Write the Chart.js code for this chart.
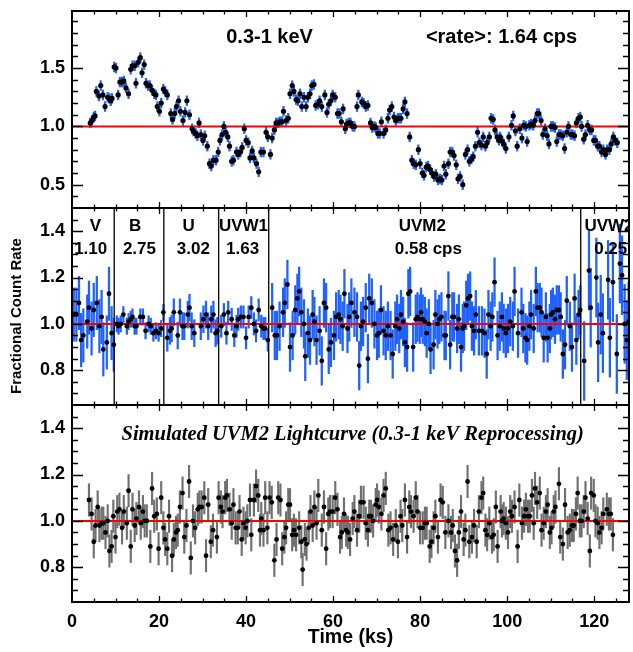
<!DOCTYPE html>
<html>
<head>
<meta charset="utf-8">
<title>Lightcurves</title>
<script src="https://cdn.jsdelivr.net/npm/chart.js@4.4.1/dist/chart.umd.min.js"></script>
<style>
  html, body { margin: 0; padding: 0; background: #fff; }
  canvas { display: block; }
</style>
</head>
<body>
<canvas id="lc" width="633" height="652"></canvas>
<script>
// 0.3-1 keV X-ray lightcurve (fractional rate)
const tTop = [
  4.2,4.6,5.0,5.3,5.6,6.2,6.6,7.1,7.6,8.2,
  8.6,8.9,9.2,9.7,10.1,10.6,11.0,11.5,11.9,12.4,
  13.0,13.5,13.9,14.4,14.7,15.2,15.7,16.1,16.6,17.0,
  17.5,17.9,18.4,18.9,19.3,19.6,20.1,20.5,21.0,21.4,
  21.9,22.7,23.1,23.6,24.0,24.5,24.9,25.5,26.0,26.4,
  27.0,27.6,27.9,28.4,28.8,29.2,29.6,30.1,30.5,31.1,
  31.6,32.0,32.5,33.1,33.6,34.0,34.5,34.9,35.3,35.8,
  36.2,36.7,37.1,37.8,38.2,38.7,39.1,39.6,40.0,40.5,
  40.9,41.4,41.8,42.4,42.9,43.4,44.0,44.6,45.0,45.6,
  46.0,46.5,46.9,47.4,47.8,48.3,48.6,49.2,49.7,50.1,
  50.6,51.0,51.5,51.9,52.4,52.8,53.3,53.8,54.2,54.7,
  55.1,55.6,56.0,56.5,56.9,57.4,58.1,58.6,59.0,59.5,
  59.9,60.5,61.0,61.4,61.9,62.3,62.8,63.1,63.6,64.0,
  64.5,64.9,65.5,65.8,66.6,67.0,67.5,68.0,68.6,69.0,
  69.5,69.8,70.3,70.7,71.1,71.6,72.1,72.6,73.0,73.5,
  74.0,74.4,74.9,75.3,75.6,76.1,76.5,77.0,77.6,78.1,
  78.5,79.0,79.6,80.0,80.5,80.9,81.4,81.8,82.3,82.7,
  83.2,83.6,84.1,84.6,85.0,85.5,85.9,86.5,86.9,87.4,
  87.8,88.3,88.7,89.2,89.8,90.4,90.9,91.3,91.8,92.2,
  92.7,93.2,93.6,94.1,94.5,95.0,95.4,95.9,96.3,96.8,
  97.2,97.7,98.1,98.4,98.9,99.2,99.7,100.4,101.0,101.4,
  101.9,102.3,102.9,103.4,103.8,104.3,104.6,105.1,105.5,106.0,
  106.4,106.9,107.3,107.8,108.2,108.7,109.2,109.6,110.1,110.5,
  111.0,111.4,111.9,112.3,112.8,113.2,113.7,114.1,114.6,115.0,
  115.5,115.9,116.4,116.8,117.1,117.6,118.0,118.5,119.0,119.4,
  119.9,120.3,120.8,121.2,121.7,122.1,122.6,123.0,123.5,123.9,
  124.4,124.8,125.3
];
const rateTop = [
  1.03,1.05,1.08,1.09,1.30,1.26,1.35,1.27,1.17,1.25,
  1.24,1.22,1.24,1.51,1.50,1.27,1.38,1.38,1.39,1.33,
  1.28,1.49,1.52,1.52,1.37,1.55,1.59,1.46,1.53,1.37,
  1.35,1.35,1.31,1.28,1.27,1.17,1.13,1.20,1.32,1.30,
  1.27,1.11,1.06,1.11,1.17,1.22,1.13,1.05,1.12,1.22,
  1.10,0.98,0.96,0.94,0.92,1.03,0.93,0.88,0.92,0.83,
  0.68,0.66,0.71,0.71,0.78,0.88,0.93,1.00,0.95,0.91,
  0.83,0.70,0.71,0.78,0.76,0.78,0.82,0.98,0.88,0.86,
  0.73,0.79,0.73,0.68,0.61,0.78,0.78,0.95,0.91,0.76,
  0.90,0.97,1.03,1.03,1.04,1.04,1.13,1.05,1.07,1.28,
  1.35,1.30,1.23,1.22,1.28,1.17,1.25,1.17,1.25,1.28,
  1.35,1.36,1.18,1.19,1.22,1.17,1.27,1.12,1.19,1.22,
  1.27,1.25,1.11,1.11,1.04,1.15,0.98,1.02,1.03,1.03,
  1.00,1.00,1.17,1.27,1.21,1.20,1.17,1.18,1.03,0.99,
  1.00,0.99,0.94,0.94,1.04,0.94,0.97,1.07,1.14,1.17,
  1.08,1.05,1.07,1.07,1.07,1.15,1.21,1.11,0.91,0.71,
  0.68,0.67,0.80,0.68,0.60,0.58,0.65,0.66,0.63,0.60,
  0.57,0.59,0.54,0.55,0.54,0.66,0.59,0.68,0.78,0.78,
  0.75,0.67,0.55,0.57,0.50,0.76,0.80,0.70,0.72,0.74,
  0.83,0.95,0.86,0.84,0.91,0.83,0.86,0.91,1.07,1.06,
  0.97,0.91,0.88,0.91,0.87,0.85,0.81,0.91,1.01,1.09,
  0.96,0.83,0.98,0.90,1.01,1.00,0.87,1.01,1.02,1.01,
  1.05,1.11,1.11,1.05,0.93,0.98,0.92,0.85,1.00,1.00,
  0.99,0.87,0.93,0.93,0.92,0.81,0.95,1.00,0.93,0.93,
  0.92,1.03,1.07,1.08,1.00,0.89,0.93,1.01,0.97,0.97,
  0.88,0.88,0.83,0.83,0.78,0.80,0.76,0.80,0.80,0.85,
  0.91,0.88,0.86
];
const errTop = 0.042;

// UVOT filter sequence (V, B, U, UVW1, UVM2, UVW2)
const filterNames = ['V', 'B', 'U', 'UVW1', 'UVM2', 'UVW2'];
const filterRates = ['1.10', '2.75', '3.02', '1.63', '0.58 cps', '0.25'];
const filterEdges = [9.7, 21.1, 33.7, 45.2, 116.9];
const filterErr = [0.115, 0.035, 0.058, 0.048, 0.105, 0.17];

const tMid = [
  0.4,1.0,1.6,2.1,2.6,3.5,3.9,4.5,5.0,5.7,6.3,6.8,7.2,8.0,8.5,9.1,9.6,
  10.3,10.7,11.2,11.8,12.6,13.0,13.5,13.9,14.4,14.8,15.7,16.3,16.9,17.6,18.1,18.7,19.3,19.9,20.5,21.0,
  21.9,22.5,22.9,23.4,24.3,24.8,25.4,25.8,26.6,27.0,27.5,28.1,29.6,30.2,30.8,31.3,32.0,32.5,33.0,33.4,
  34.3,34.9,35.5,35.9,36.7,37.3,37.8,38.2,38.8,39.4,40.0,40.6,41.2,41.8,42.3,42.9,43.5,44.0,44.4,45.0,
  46.0,46.6,47.1,47.7,48.5,48.9,49.5,50.1,50.7,51.3,
  51.8,52.2,52.7,53.3,53.6,54.2,54.7,55.3,55.7,56.2,
  56.9,57.4,57.9,58.4,59.0,59.5,60.2,60.7,61.3,61.7,
  62.2,62.6,63.3,63.7,64.2,64.9,65.5,66.0,66.4,66.9,
  67.5,68.0,68.3,68.9,69.5,70.1,70.5,71.0,71.6,72.1,
  72.6,73.2,73.7,74.3,74.7,75.2,75.6,76.1,76.5,77.0,
  77.3,77.7,78.4,79.0,79.4,79.9,80.2,80.6,81.1,81.5,
  82.0,82.4,83.1,83.5,84.0,84.4,84.9,85.6,85.9,86.5,
  86.9,87.4,87.8,88.5,88.9,89.4,89.8,90.1,90.6,91.0,
  91.5,91.9,92.4,92.8,93.5,94.2,94.8,95.3,95.7,96.2,
  96.6,97.1,97.8,98.3,98.8,99.2,99.7,100.2,100.7,101.3,
  101.7,102.5,103.3,103.7,104.2,104.6,105.1,105.5,106.1,106.6,
  107.0,107.5,107.9,108.4,108.9,109.3,109.8,110.1,110.5,111.0,
  111.4,111.9,112.3,112.8,113.3,113.7,114.4,114.9,115.5,115.9,
  116.4,116.8,
  117.7,118.8,119.2,120.5,120.9,121.5,122.0,123.2,123.6,124.3,125.2,125.9,126.4,127.0,127.5,127.9
];
const rateMid = [
  1.04,1.04,1.09,0.93,0.95,1.01,1.07,0.98,1.06,1.09,0.99,1.03,0.89,0.92,1.13,0.96,0.91,
  1.00,0.99,1.00,1.04,0.99,1.01,1.02,1.03,0.99,0.99,1.03,1.03,0.97,1.00,0.99,0.96,0.97,0.96,0.98,1.05,
  0.94,0.97,0.98,1.05,0.95,1.05,0.99,0.99,1.04,1.07,0.99,0.96,0.99,1.02,1.04,0.99,1.02,1.04,0.96,0.97,
  0.99,1.04,0.96,1.05,1.02,0.95,0.99,1.02,1.03,1.03,0.94,1.03,1.07,1.00,0.97,1.06,0.99,0.98,0.98,0.93,
  1.07,0.95,0.95,0.99,1.05,1.09,1.17,0.90,0.95,1.06,
  1.11,1.14,1.05,1.00,0.86,0.96,0.93,1.04,1.01,0.93,
  0.97,0.84,1.09,1.07,0.89,0.92,0.95,1.03,1.04,1.02,
  0.99,1.13,0.98,1.03,1.09,1.05,1.03,0.82,0.99,1.01,
  1.07,0.85,1.11,1.09,1.00,0.95,0.96,1.06,0.97,0.95,
  0.99,0.95,0.87,0.99,1.02,0.98,1.04,1.01,0.92,0.90,
  1.13,1.14,0.90,1.02,1.03,1.02,1.05,1.02,1.01,0.96,
  1.00,0.89,0.91,1.04,1.00,1.02,1.03,0.95,0.95,1.12,
  0.91,1.03,1.03,0.98,1.02,0.90,0.98,0.99,1.08,1.11,
  1.12,0.99,0.97,1.04,0.97,0.97,0.96,0.87,1.04,0.99,
  1.03,1.18,0.95,0.99,1.03,0.98,0.96,0.98,1.01,0.99,
  1.14,0.96,1.05,0.98,0.94,0.93,0.99,1.04,0.98,1.14,
  1.07,1.07,1.05,0.94,1.03,0.94,0.98,1.04,1.05,1.02,
  1.06,1.06,1.03,0.87,0.91,1.10,0.99,0.90,1.11,0.93,
  1.04,1.06,
  0.84,1.23,1.07,1.20,0.92,1.04,0.96,1.19,0.94,1.18,0.87,1.26,1.21,1.00,0.93,1.01
];

// simulated UVM2 lightcurve from reprocessing the 0.3-1 keV band
const tBot = [
  3.9,4.5,5.0,5.4,5.9,6.3,6.8,7.2,7.7,8.2,
  8.6,9.1,9.5,10.0,10.4,10.9,11.5,11.9,12.6,13.0,
  13.5,13.9,14.4,14.8,15.4,15.8,16.3,16.7,17.2,18.0,
  18.4,18.9,19.5,19.9,20.5,21.0,21.4,21.9,22.3,23.0,
  23.4,23.9,24.3,24.8,25.4,25.8,26.3,26.9,27.3,27.8,
  28.3,28.9,29.3,29.8,30.4,30.8,31.3,31.9,32.4,33.3,
  33.7,34.2,34.6,35.2,35.6,36.2,36.7,37.1,37.6,38.1,
  38.5,39.0,39.4,39.9,40.3,40.9,41.2,41.8,42.3,42.8,
  43.2,43.5,44.0,44.4,44.9,45.4,45.9,46.5,47.0,47.4,
  47.9,48.3,48.8,49.2,49.7,50.1,50.6,51.0,51.5,52.2,
  52.7,53.0,53.5,53.9,54.4,54.8,55.3,55.7,56.2,56.6,
  57.4,57.9,58.4,58.9,59.3,59.9,60.5,61.0,61.6,62.0,
  62.5,63.0,63.4,63.9,64.5,64.9,65.5,66.0,66.4,67.0,
  67.5,68.0,68.3,68.7,69.2,69.8,70.1,70.5,71.1,71.6,
  72.1,72.7,73.2,73.8,74.4,74.9,75.5,75.9,76.5,77.0,
  77.5,77.9,78.5,79.0,79.4,80.0,80.6,81.1,81.5,82.2,
  82.6,83.1,83.5,84.1,84.7,85.2,85.8,86.5,87.1,87.5,
  88.0,88.5,88.9,89.4,90.0,90.4,90.9,91.3,91.9,92.4,
  93.0,93.5,94.1,94.5,95.0,95.4,95.9,96.5,96.9,97.4,
  97.8,98.5,98.8,99.2,99.7,100.2,100.7,101.1,101.7,102.4,
  102.8,103.4,103.9,104.3,104.8,105.2,105.7,106.1,106.4,106.9,
  107.5,107.9,108.4,108.9,109.3,109.8,110.2,110.7,111.1,111.9,
  112.2,112.8,113.3,113.9,114.4,114.9,115.3,115.8,116.2,116.7,
  117.1,117.6,118.0,118.5,119.0,119.3,119.9,120.3,120.8,121.2,
  121.7,122.1,122.9,123.4,123.8,124.3
];
const rateBot = [
  1.09,1.03,0.91,0.98,1.06,0.98,0.99,0.99,0.95,1.00,
  0.87,0.89,1.02,0.93,1.04,1.05,0.97,1.04,0.99,1.13,
  0.89,1.05,0.98,1.01,1.06,0.99,1.04,1.00,1.00,0.89,
  1.14,1.02,1.03,0.88,1.10,0.97,0.92,0.88,1.02,0.85,
  0.92,0.95,0.96,1.06,1.12,0.93,0.98,1.17,0.84,1.00,
  0.97,1.05,1.06,1.06,1.10,0.85,1.07,0.91,0.96,0.93,
  1.10,1.06,1.04,1.10,1.11,1.05,0.99,1.07,0.97,0.97,
  1.04,0.92,0.99,0.97,1.00,1.09,0.94,1.09,1.15,1.11,
  0.96,1.01,0.96,1.10,0.97,1.10,1.08,0.83,0.92,1.10,
  1.09,0.88,0.93,0.97,1.07,1.07,0.94,0.96,0.94,0.97,
  0.91,0.79,0.92,0.90,0.97,1.04,0.98,1.06,0.99,1.11,
  0.96,1.06,0.88,1.03,1.04,1.04,1.10,1.05,0.93,0.95,
  1.03,0.96,0.95,0.92,1.01,1.04,0.96,1.02,1.08,1.08,
  0.99,0.96,1.02,1.02,1.00,1.07,1.09,1.06,1.03,1.11,
  1.14,0.96,0.97,0.92,0.98,0.91,1.02,0.98,1.09,0.93,
  1.06,1.04,1.02,1.10,1.04,0.97,0.97,0.99,0.99,0.89,
  0.91,0.97,1.02,0.93,1.09,1.08,0.95,1.00,0.95,0.98,
  0.87,0.83,0.95,1.04,0.92,0.96,1.17,0.91,0.93,0.98,
  0.91,1.04,1.10,1.12,0.96,0.94,0.99,0.93,0.94,1.06,
  0.89,1.04,1.00,1.01,0.99,0.95,1.04,1.02,1.06,0.89,
  1.09,0.99,1.02,1.05,1.02,1.02,1.11,0.99,1.14,1.08,
  1.12,0.96,0.99,1.04,1.07,0.95,0.97,1.04,1.06,1.16,
  0.93,0.90,1.07,0.95,0.96,0.98,0.98,1.03,1.12,1.00,
  1.00,1.04,1.10,1.01,0.87,1.12,1.11,1.00,0.99,0.95,
  0.97,1.03,1.05,1.03,1.03,0.94
];
const errBot = 0.07;

const xTickLabels = [0, 20, 40, 60, 80, 100, 120];

// where the filter captions sit (time, fractional rate)
const nameX = [5.4, 14.5, 26.8, 39.4, 80.5, 123.4];
const rateX = [4.3, 15.5, 27.9, 39.2, 81.9, 123.8];

const SANS = '"Liberation Sans", Arial, Helvetica, sans-serif';
const SERIF = '"Liberation Serif", "Times New Roman", Times, serif';
const BLUE = 'rgb(32, 98, 255)';
const GREY = 'rgb(112, 112, 112)';

const filterOf = t => filterEdges.filter(e => t > e).length;

function errorBars(id, t, r, err, color, width) {
  return {
    type: 'bar', yAxisID: id, order: 3, grouped: false,
    data: t.map((x, i) => ({ x, y: [r[i] - err(i), r[i] + err(i)] })),
    backgroundColor: color, borderWidth: 0, barThickness: width
  };
}
function points(id, t, r, radius) {
  return {
    type: 'scatter', yAxisID: id, order: 1,
    data: t.map((x, i) => ({ x, y: r[i] })),
    pointRadius: radius, pointBackgroundColor: '#000', pointBorderWidth: 0
  };
}
function unity(id) {
  return {
    type: 'line', yAxisID: id, order: 2,
    data: [{ x: 0, y: 1 }, { x: 128, y: 1 }],
    borderColor: '#ff0000', borderWidth: 2, pointRadius: 0
  };
}

const datasets = [
  errorBars('yTop', tTop, rateTop, () => errTop, BLUE, 1.6),
  unity('yTop'),
  points('yTop', tTop, rateTop, 2.6),
  errorBars('yMid', tMid, rateMid, i => filterErr[filterOf(tMid[i])], BLUE, 1.6),
  unity('yMid'),
  points('yMid', tMid, rateMid, 2.4),
  errorBars('yBot', tBot, rateBot, () => errBot, GREY, 1.5),
  unity('yBot'),
  points('yBot', tBot, rateBot, 2.4)
];
filterEdges.forEach(x => datasets.push({
  type: 'line', yAxisID: 'yMid', order: 2.5,
  data: [{ x, y: 0.65 }, { x, y: 1.5 }],
  borderColor: '#111', borderWidth: 1.4, pointRadius: 0
}));

function panelAxis(min, max, labels, weight) {
  return {
    type: 'linear', axis: 'y', position: 'left', stack: 'panels', stackWeight: 1, weight,
    min, max,
    grid: { display: false, drawTicks: false }, border: { display: false },
    ticks: { color: '#000', font: { family: SANS, size: 18, weight: 'bold' }, padding: 7,
             autoSkip: false, callback: v => v.toFixed(1) },
    afterBuildTicks: s => { s.ticks = labels.map(value => ({ value })); },
    afterFit: s => { s.width = 72; s.paddingTop = 0; s.paddingBottom = 0; }
  };
}

// minor/major tick layout for each panel
const tickSpec = {
  yTop: { from: 0.3, to: 1.9, step: 0.1, major: [0.5, 1.0, 1.5] },
  yMid: { from: 0.65, to: 1.5, step: 0.05, major: [0.8, 1.0, 1.2, 1.4] },
  yBot: { from: 0.65, to: 1.5, step: 0.05, major: [0.8, 1.0, 1.2, 1.4] }
};

// clip each dataset to its own panel
const panelClip = {
  id: 'panelClip',
  beforeDatasetDraw(chart, args) {
    const s = chart.scales[args.meta.yAxisID];
    const a = chart.chartArea;
    chart.ctx.save();
    chart.ctx.beginPath();
    chart.ctx.rect(a.left, s.top, a.right - a.left, s.bottom - s.top);
    chart.ctx.clip();
  },
  afterDatasetDraw(chart) { chart.ctx.restore(); }
};

const annotate = {
  id: 'annotate',
  afterDatasetsDraw(chart) {
    const { ctx, chartArea: a, scales } = chart;
    const { x, yTop, yMid, yBot } = scales;

    ctx.save();
    ctx.beginPath();
    ctx.rect(a.left, a.top, a.right - a.left, a.bottom - a.top);
    ctx.clip();
    ctx.fillStyle = '#000';
    ctx.textAlign = 'center';
    ctx.textBaseline = 'middle';
    ctx.font = 'bold 20px ' + SANS;
    ctx.fillText('0.3-1 keV', x.getPixelForValue(45.4), yTop.getPixelForValue(1.76));
    ctx.fillText('<rate>: 1.64 cps', x.getPixelForValue(98.7), yTop.getPixelForValue(1.76));
    ctx.font = 'bold 17px ' + SANS;
    filterNames.forEach((n, i) => {
      ctx.fillText(n, x.getPixelForValue(nameX[i]), yMid.getPixelForValue(1.422));
      ctx.fillText(filterRates[i], x.getPixelForValue(rateX[i]), yMid.getPixelForValue(1.322));
    });
    ctx.font = 'italic bold 20.5px ' + SERIF;
    ctx.fillText('Simulated UVM2 Lightcurve (0.3-1 keV Reprocessing)',
      x.getPixelForValue(64.5), yBot.getPixelForValue(1.372));
    ctx.restore();

    // inward ticks and panel frames
    ctx.save();
    ctx.strokeStyle = '#000';
    ['yTop', 'yMid', 'yBot'].forEach(id => {
      const s = scales[id];
      const spec = tickSpec[id];
      const n = Math.round((spec.to - spec.from) / spec.step);
      ctx.lineWidth = 1.3;
      ctx.beginPath();
      for (let k = 1; k <= n; k++) {
        const v = spec.from + k * spec.step;
        if (v >= s.max - 1e-6) continue;
        const len = spec.major.some(m => Math.abs(m - v) < 1e-6) ? 11 : 6;
        const py = Math.round(s.getPixelForValue(v)) + 0.5;
        ctx.moveTo(a.left, py); ctx.lineTo(a.left + len, py);
        ctx.moveTo(a.right, py); ctx.lineTo(a.right - len, py);
      }
      for (let v = 5; v < 128; v += 5) {
        const len = v % 20 === 0 ? 6 : 3.5;
        const px = Math.round(x.getPixelForValue(v)) + 0.5;
        ctx.moveTo(px, s.top); ctx.lineTo(px, s.top + len);
        ctx.moveTo(px, s.bottom); ctx.lineTo(px, s.bottom - len);
      }
      ctx.stroke();
      ctx.lineWidth = 2;
      ctx.strokeRect(a.left, s.top, a.right - a.left, s.bottom - s.top);
    });

    // shared y title
    ctx.fillStyle = '#000';
    ctx.font = 'bold 15px ' + SANS;
    ctx.textAlign = 'center';
    ctx.textBaseline = 'middle';
    ctx.translate(17, 316);
    ctx.rotate(-Math.PI / 2);
    ctx.fillText('Fractional Count Rate', 0, 0);
    ctx.restore();
  }
};

new Chart(document.getElementById('lc'), {
  type: 'scatter',
  data: { datasets },
  options: {
    responsive: false,
    animation: false,
    events: [],
    layout: { padding: { top: 11, right: 1, left: 0, bottom: 0 } },
    plugins: { legend: { display: false }, tooltip: { enabled: false } },
    scales: {
      x: {
        type: 'linear', axis: 'x', position: 'bottom', min: 0, max: 128, offset: false,
        grid: { display: false, drawTicks: false, offset: false }, border: { display: false },
        ticks: { color: '#000', font: { family: SANS, size: 18, weight: 'bold' }, padding: 9,
                 autoSkip: false, maxRotation: 0, callback: v => v },
        afterBuildTicks: s => { s.ticks = xTickLabels.map(value => ({ value })); },
        title: { display: true, text: 'Time (ks)', color: '#000',
                 font: { family: SANS, size: 19.5, weight: 'bold' }, padding: { top: 0, bottom: 3 } },
        afterFit: s => { s.height = 50; s.paddingLeft = 0; s.paddingRight = 0; }
      },
      yTop: panelAxis(0.3, 1.99, [0.5, 1.0, 1.5], 3),
      yMid: panelAxis(0.65, 1.5, [0.8, 1.0, 1.2, 1.4], 2),
      yBot: panelAxis(0.65, 1.5, [0.8, 1.0, 1.2, 1.4], 1)
    }
  },
  plugins: [panelClip, annotate]
});
</script>
</body>
</html>
